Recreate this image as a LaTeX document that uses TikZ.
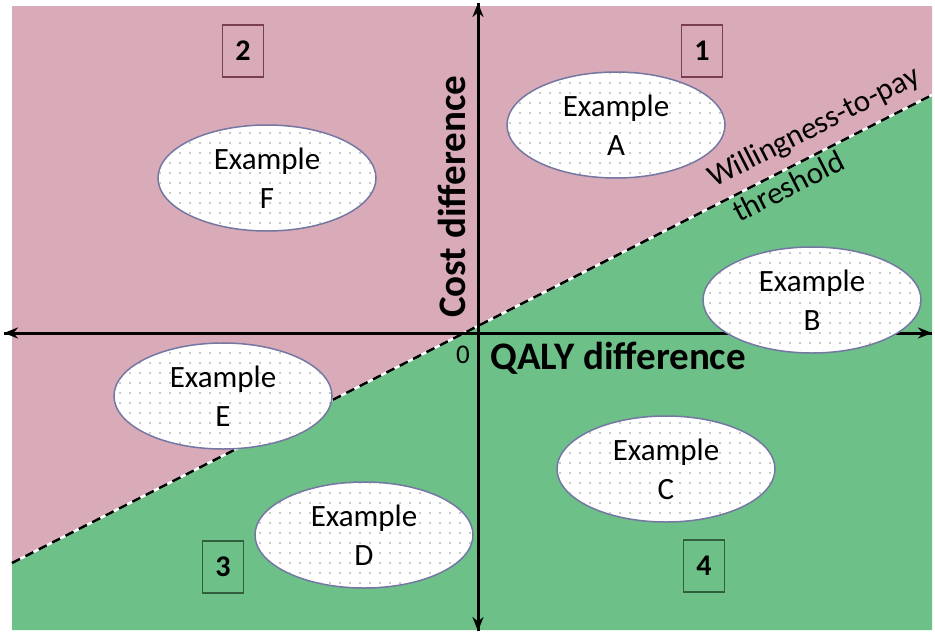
\documentclass[tikz,border=0pt]{standalone}
\usepackage{fontspec}
\setmainfont{Carlito}
\usetikzlibrary{shapes.geometric,arrows.meta,patterns.meta}
\tikzdeclarepattern{
  name=sparsedots, type=uncolored,
  bottom left={(-1pt,-1pt)}, top right={(9pt,9pt)}, tile size={(10pt,10pt)},
  code={\fill (0pt,0pt) circle (0.85pt);}
}
\definecolor{pinkbg}{HTML}{D9AAB8}
\definecolor{greenbg}{HTML}{6CC088}
\definecolor{ellborder}{HTML}{7577A3}
\definecolor{boxred}{HTML}{7A3E52}
\definecolor{boxgreen}{HTML}{2F5F3C}
\tikzset{
  ex/.style={ellipse, draw=ellborder, line width=1.5pt, fill=white,
    postaction={pattern={sparsedots}, pattern color=gray!85},
    minimum width=218pt, minimum height=106pt, inner sep=0pt,
    font=\fontsize{31}{39}\selectfont, align=center},
  numbox/.style={draw=#1, line width=1.3pt, minimum width=41pt, minimum height=52pt,
    inner sep=0pt, font=\fontsize{30}{34}\selectfont\bfseries},
  axis/.style={line width=3pt, -{Stealth[length=14pt,width=11pt]}},
  axlabel/.style={font=\fontsize{39}{44}\selectfont\bfseries},
  thr/.style={font=\fontsize{31}{34}\selectfont, rotate=27, anchor=base west, inner sep=0pt}
}
\begin{document}
\begin{tikzpicture}[x=1pt,y=-1pt]
\useasboundingbox (0,0) rectangle (935,633);
% regions
\coordinate (bl) at (12,630);
\coordinate (tl) at (12,6);
\coordinate (tr) at (932,6);
\coordinate (br) at (932,630);
\coordinate (thrL) at (12,563);
\coordinate (thrR) at (932,95);
\fill[pinkbg] (tl) -- (tr) -- (thrR) -- (thrL) -- cycle;
\fill[greenbg] (thrL) -- (thrR) -- (br) -- (bl) -- cycle;
% threshold
\draw[white, line width=2.5pt] (thrL) -- (thrR);
\draw[black, line width=2.5pt, dash pattern=on 9pt off 6pt] (thrL) -- (thrR);
% axes
\coordinate (ytop) at (478,3);
\coordinate (ybot) at (478,631);
\coordinate (xleft) at (4,333);
\coordinate (xright) at (932,333);
\draw[axis] (ybot) -- (ytop);
\draw[axis] (xright) -- (xleft);
\draw[axis] (xleft) -- (xright);
\draw[axis] (ytop) -- (ybot);
% labels
\node[axlabel, rotate=90] (costlbl) at (452,197) {Cost difference};
\node[axlabel, anchor=west] (qalylbl) at (487,358) {QALY difference};
\node[font=\fontsize{27}{30}\selectfont] (zero) at (463,355) {0};
\node[thr] (wtp) at (714,188) {Willingness-to-pay};
\node[thr] (thresh) at (739,223) {threshold};
% number boxes
\node[numbox=boxred] (q2) at (243,51) {2};
\node[numbox=boxred] (q1) at (702,51) {1};
\node[numbox=boxgreen] (q3) at (223,567) {3};
\node[numbox=boxgreen] (q4) at (704,566) {4};
% examples
\node[ex] (exA) at (616,125) {Example\\A};
\node[ex] (exF) at (267,178) {Example\\F};
\node[ex] (exB) at (812,300) {Example\\B};
\node[ex] (exE) at (223,396) {Example\\E};
\node[ex] (exC) at (666,469) {Example\\C};
\node[ex] (exD) at (364,535) {Example\\D};
\end{tikzpicture}
\end{document}
